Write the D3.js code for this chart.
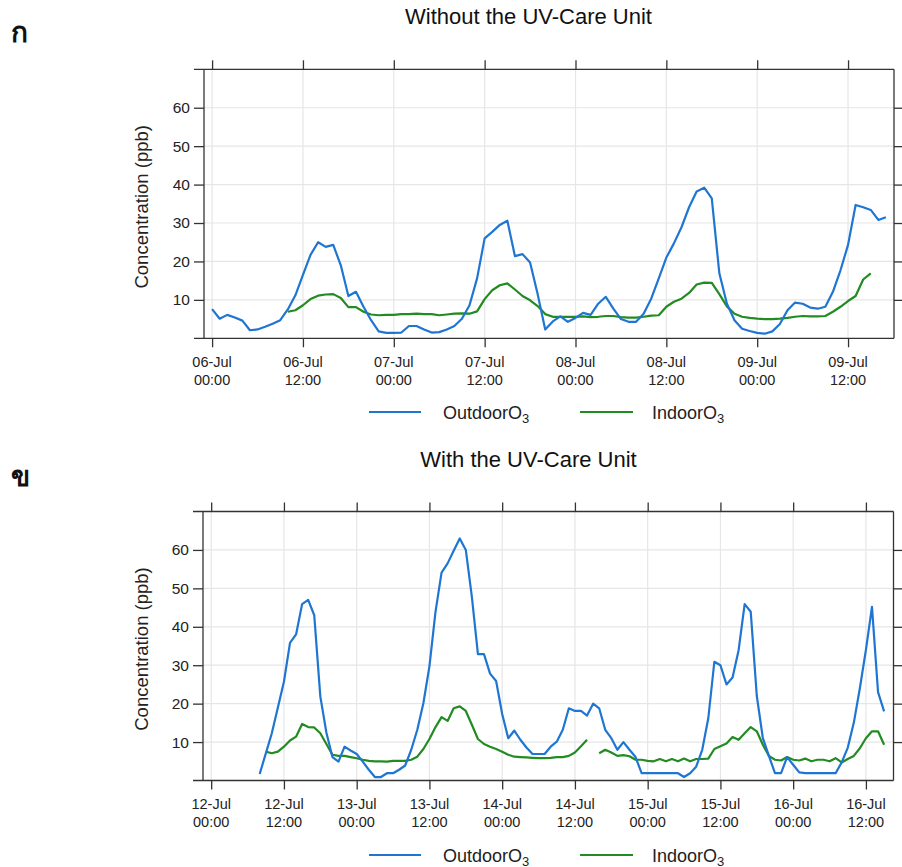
<!DOCTYPE html>
<html><head><meta charset="utf-8">
<script src="https://cdn.jsdelivr.net/npm/d3@7"></script>
<style>body{margin:0;background:#fff}svg{display:block;font-family:"Liberation Sans",Arial,sans-serif}</style>
</head><body>
<svg id="c" width="902" height="867"></svg>
<script>
// ---------- DATA ----------
const panelLabels = ["ก", "ข"];
const titles = ["Without the UV-Care Unit", "With the UV-Care Unit"];
const yTicks = [10, 20, 30, 40, 50, 60];
const seriesNames = ["Outdoor", "Indoor"];
// hourly series, first value at the start time
const startTop = "2021-07-06T00:00:00Z";
const startBottom = "2021-07-12T00:00:00Z";
const outdoorTop = [7.6,5.1,6.1,5.4,4.6,2.1,2.3,3.0,3.8,4.7,7.5,11.2,16.5,21.7,25.0,23.8,24.3,19.0,11.0,12.1,
 8.2,4.7,1.8,1.4,1.4,1.5,3.2,3.2,2.3,1.5,1.6,2.3,3.2,5.1,8.6,15.6,26.0,27.7,29.5,30.6,
 21.4,21.9,19.7,11.5,2.3,4.4,5.7,4.3,5.3,6.6,6.1,9.0,10.8,7.7,5.0,4.3,4.3,6.4,10.3,15.6,
 21.0,24.7,28.9,34.1,38.2,39.2,36.4,16.9,9.0,4.7,2.5,1.9,1.4,1.2,1.8,3.7,7.3,9.3,9.0,8.0,
 7.7,8.2,12.1,17.7,24.3,34.7,34.1,33.4,30.8,31.5];
const indoorTop = [null,null,null,null,null,null,null,null,null,null,
 6.9,7.3,8.6,10.2,11.1,11.4,11.5,10.5,8.1,8.1,6.9,6.2,6.0,6.1,6.1,6.3,6.3,6.4,6.3,6.3,
 6.0,6.2,6.4,6.5,6.4,7.0,10.2,12.5,13.8,14.3,12.7,11.0,9.9,8.4,6.3,5.6,5.6,5.6,5.6,5.7,
 5.5,5.6,5.8,5.8,5.5,5.4,5.4,5.6,5.9,6.0,8.2,9.5,10.3,11.8,14.0,14.5,14.4,11.5,8.3,6.4,
 5.6,5.3,5.1,5.0,5.0,5.1,5.3,5.6,5.8,5.7,5.7,5.8,6.9,8.2,9.7,11.0,15.3,16.9];
const outdoorBottom = [null,null,null,null,null,null,null,null,
 1.7,7.0,12.3,19.0,25.7,35.8,38.0,45.9,47.0,43.0,21.9,12.5,6.1,4.9,8.8,7.8,
 6.9,4.9,2.8,0.9,0.9,1.9,1.9,2.8,3.9,8.0,13.2,20.1,29.7,43.9,54.1,56.5,59.8,63.0,60.0,47.8,32.9,32.9,27.8,25.9,
 17.3,11.0,13.0,10.6,8.6,6.9,6.9,6.9,8.8,10.1,13.2,18.8,18.1,18.1,16.9,20.0,18.8,13.2,11.0,8.0,10.0,8.0,6.1,1.9,
 1.9,1.9,1.9,1.9,1.9,1.9,0.9,1.9,3.6,8.0,16.2,30.9,30.0,25.0,26.8,33.9,45.9,43.9,22.0,11.0,6.4,1.9,1.9,6.1,
 4.1,2.1,1.9,1.9,1.9,1.9,1.9,1.9,4.7,8.5,15.0,24.0,34.0,45.2,23.0,18.0];
const indoorBottom = [null,null,null,null,null,null,null,null,null,
 7.5,7.1,7.5,8.8,10.4,11.4,14.7,13.9,13.8,12.3,9.5,6.7,6.4,6.4,6.1,
 5.8,5.4,5.1,5.0,5.0,4.9,5.1,5.1,5.1,5.4,6.2,8.2,10.8,13.9,16.5,15.5,18.8,19.3,18.1,14.5,10.8,9.5,8.8,8.2,
 7.5,6.7,6.2,6.1,6.0,5.9,5.8,5.8,5.9,6.1,6.1,6.4,7.3,8.9,10.6,null,7.1,8.0,7.3,6.4,6.6,6.3,5.4,5.4,
 5.1,5.0,5.6,5.0,5.6,5.0,5.7,5.0,5.6,5.6,5.7,8.2,8.9,9.6,11.3,10.6,12.3,13.9,12.8,9.3,6.4,5.4,5.2,6.1,
 5.4,5.2,5.7,5.0,5.4,5.4,5.0,5.8,4.7,5.6,6.4,8.4,11.0,12.8,12.8,9.3];

// ---------- STYLE / LAYOUT ----------
const colors = {Outdoor: "#1f76d2", Indoor: "#228b22"};
const frameColor = "#333";
const HOUR = 3600e3;
const panels = [
  {label: panelLabels[0], title: titles[0], start: new Date(startTop), out: outdoorTop, ind: indoorTop,
   left: 204, right: 894, top: 69.3, bottom: 338.3, padL: 1.07, padR: 90.07, nTicks: 8,
   titleY: 24, labelY: 42, legendY: 412},
  {label: panelLabels[1], title: titles[1], start: new Date(startBottom), out: outdoorBottom, ind: indoorBottom,
   left: 203, right: 893.5, top: 511.5, bottom: 780.5, padL: 1.35, padR: 112.55, nTicks: 10,
   titleY: 467, labelY: 486, legendY: 855}
];

const svg = d3.select("#c");
const fmtD = d3.utcFormat("%d-%b"), fmtT = d3.utcFormat("%H:%M");

panels.forEach(p => {
  const g = svg.append("g");
  const t0 = p.start.getTime();
  const x = d3.scaleUtc().domain([new Date(t0 - p.padL * HOUR), new Date(t0 + p.padR * HOUR)]).range([p.left, p.right]);
  const y = d3.scaleLinear().domain([0, 70]).range([p.bottom, p.top]);
  const xTicks = d3.range(p.nTicks).map(i => new Date(t0 + i * 12 * HOUR));

  // grid
  g.append("g").selectAll("line").data(xTicks).join("line")
    .attr("x1", d => x(d)).attr("x2", d => x(d)).attr("y1", p.top).attr("y2", p.bottom)
    .attr("stroke", "#e6e6e6").attr("stroke-width", 1.2);
  g.append("g").selectAll("line").data(yTicks).join("line")
    .attr("x1", p.left).attr("x2", p.right).attr("y1", d => y(d)).attr("y2", d => y(d))
    .attr("stroke", "#e6e6e6").attr("stroke-width", 1.2);

  // series
  const mk = arr => arr.map((v, i) => ({t: new Date(t0 + i * HOUR), v}));
  const line = d3.line().defined(d => d.v != null).x(d => x(d.t)).y(d => y(d.v));
  g.append("path").datum(mk(p.ind)).attr("d", line).attr("fill", "none")
    .attr("stroke", colors.Indoor).attr("stroke-width", 2.2).attr("stroke-linejoin", "round");
  g.append("path").datum(mk(p.out)).attr("d", line).attr("fill", "none")
    .attr("stroke", colors.Outdoor).attr("stroke-width", 2.2).attr("stroke-linejoin", "round");

  // frame
  const fr = g.append("g").attr("stroke", frameColor).attr("stroke-width", 1.3);
  fr.append("line").attr("x1", p.left - 10).attr("x2", p.right).attr("y1", p.top).attr("y2", p.top);
  fr.append("line").attr("x1", p.left - 10).attr("x2", p.right).attr("y1", p.bottom).attr("y2", p.bottom);
  fr.append("line").attr("x1", p.left).attr("x2", p.left).attr("y1", p.top).attr("y2", p.bottom);
  fr.append("line").attr("x1", p.right).attr("x2", p.right).attr("y1", p.top).attr("y2", p.bottom);

  // axes via d3 axis generators
  const axB = g.append("g").attr("transform", `translate(0,${p.bottom})`)
    .call(d3.axisBottom(x).tickValues(xTicks).tickSize(9).tickFormat(""));
  const axT = g.append("g").attr("transform", `translate(0,${p.top})`)
    .call(d3.axisTop(x).tickValues(xTicks).tickSize(9).tickFormat(""));
  const axL = g.append("g").attr("transform", `translate(${p.left},0)`)
    .call(d3.axisLeft(y).tickValues(yTicks).tickSize(10).tickPadding(4));
  const axR = g.append("g").attr("transform", `translate(${p.right},0)`)
    .call(d3.axisRight(y).tickValues(yTicks).tickSize(9).tickFormat(""));
  [axB, axT, axL, axR].forEach(a => {
    a.select(".domain").remove();
    a.selectAll(".tick line").attr("stroke", frameColor).attr("stroke-width", 1.3);
  });
  axL.selectAll(".tick text").attr("font-size", 15.5).attr("fill", "#222")
    .attr("font-family", '"Liberation Sans",Arial,sans-serif');

  // x labels (two lines)
  const xl = g.append("g").selectAll("text").data(xTicks).join("text")
    .attr("x", d => x(d)).attr("text-anchor", "middle").attr("font-size", 14.5).attr("fill", "#222");
  xl.append("tspan").attr("x", d => x(d)).attr("y", p.bottom + 28.6).text(d => fmtD(d));
  xl.append("tspan").attr("x", d => x(d)).attr("y", p.bottom + 46.2).text(d => fmtT(d));

  // y title
  g.append("text").attr("transform", `translate(148,${(p.top + p.bottom) / 2 + 3}) rotate(-90)`)
    .attr("text-anchor", "middle").attr("font-size", 18.5).attr("fill", "#222").text("Concentration (ppb)");

  // main title
  g.append("text").attr("x", 528.5).attr("y", p.titleY).attr("text-anchor", "middle")
    .attr("font-size", 22).attr("fill", "#111").text(p.title);

  // panel label
  g.append("text").attr("x", 11).attr("y", p.labelY).attr("font-size", 28).attr("font-weight", "bold")
    .attr("fill", "#111").text(p.label);

  // legend
  const leg = [{name: seriesNames[0], x1: 369, x2: 421, tx: 443}, {name: seriesNames[1], x1: 580, x2: 633, tx: 652}];
  leg.forEach(l => {
    g.append("line").attr("x1", l.x1).attr("x2", l.x2).attr("y1", p.legendY).attr("y2", p.legendY)
      .attr("stroke", colors[l.name]).attr("stroke-width", 2.2);
    const t = g.append("text").attr("x", l.tx).attr("y", p.legendY + 6.5).attr("font-size", 18).attr("fill", "#222");
    t.append("tspan").text(l.name + "O");
    t.append("tspan").attr("font-size", 13).attr("dy", 4).text("3");
  });
});
</script>
</body></html>
